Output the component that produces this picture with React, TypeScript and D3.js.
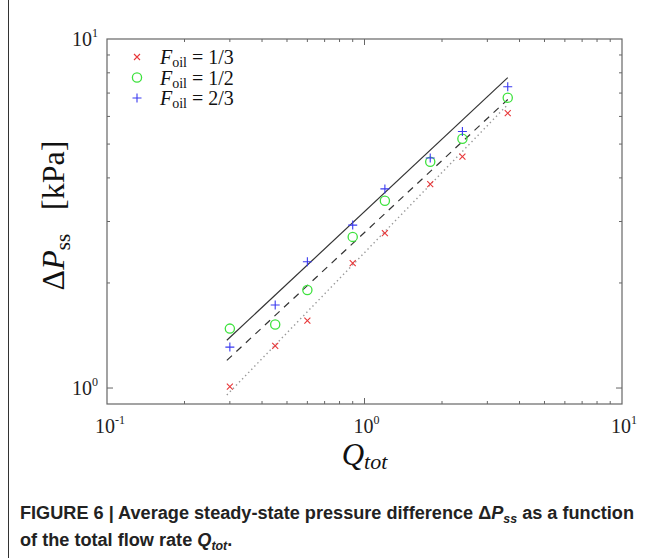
import * as d3 from 'd3';

// total flow rate and measured pressure difference (kPa)
const qTot = [0.3, 0.45, 0.6, 0.9, 1.2, 1.8, 2.4, 3.6];
const dpThird = [1.01, 1.32, 1.56, 2.28, 2.78, 3.84, 4.6, 6.13];
const dpHalf = [1.48, 1.52, 1.91, 2.71, 3.44, 4.45, 5.18, 6.79];
const dpTwoThirds = [1.31, 1.73, 2.3, 2.93, 3.72, 4.56, 5.43, 7.3];

// power-law fit lines (end points)
const fitQ = [0.292, 3.6];
const fitTwoThirds = [1.37, 7.75];
const fitHalf = [1.2, 6.71];
const fitThird = [0.955, 6.49];

const xTickExps = [-1, 0, 1];
const yTickExps = [0, 1];
const legendLabels = ['1/3', '1/2', '2/3'];

const W = 659;
const H = 558;
const frame = { left: 107, right: 622, top: 39, bottom: 404 };

const serif = '"Liberation Serif", "DejaVu Serif", serif';
const sans = '"Liberation Sans", Arial, sans-serif';

export default function App() {
  const x = d3.scaleLog().domain([0.1, 10]).range([frame.left, frame.right]);
  const y = d3.scaleLog().domain([0.9, 10]).range([frame.bottom, frame.top]);

  const line = d3.line<[number, number]>().x(d => x(d[0])).y(d => y(d[1]));
  const fit = (vals: number[]) => line(fitQ.map((q, i) => [q, vals[i]] as [number, number])) || '';

  const xMinor: number[] = [];
  [0.1, 1].forEach(b => d3.range(2, 10).forEach(k => xMinor.push(b * k)));
  const yMinor = d3.range(2, 10);

  const red = '#e8383a';
  const green = '#3ee23e';
  const blue = '#3a3af0';
  const axisCol = '#666';

  const cross = (cx: number, cy: number, k: string) => (
    <path key={k} d={`M${cx - 3},${cy - 3}L${cx + 3},${cy + 3}M${cx - 3},${cy + 3}L${cx + 3},${cy - 3}`}
      stroke={red} strokeWidth={1.1} fill="none" />
  );
  const circle = (cx: number, cy: number, k: string) => (
    <circle key={k} cx={cx} cy={cy} r={4.6} stroke={green} strokeWidth={1.3} fill="none" />
  );
  const plus = (cx: number, cy: number, k: string) => (
    <path key={k} d={`M${cx - 4.5},${cy}L${cx + 4.5},${cy}M${cx},${cy - 4.5}L${cx},${cy + 4.5}`}
      stroke={blue} strokeWidth={1.1} fill="none" />
  );

  const markers = [cross, circle, plus];

  return (
    <svg width={W} height={H} style={{ position: 'absolute', left: 0, top: 0, background: '#fff' }}>
      {/* outer border */}
      <line x1={8.5} x2={8.5} y1={0} y2={H} stroke="#333" strokeWidth={1} />

      {/* minor ticks */}
      {xMinor.map(v => (
        <g key={'xm' + v} stroke={axisCol} strokeWidth={1}>
          <line x1={x(v)} x2={x(v)} y1={frame.bottom} y2={frame.bottom - 3} />
          <line x1={x(v)} x2={x(v)} y1={frame.top} y2={frame.top + 3} />
        </g>
      ))}
      {yMinor.map(v => (
        <g key={'ym' + v} stroke={axisCol} strokeWidth={1}>
          <line x1={frame.left} x2={frame.left + 3} y1={y(v)} y2={y(v)} />
          <line x1={frame.right} x2={frame.right - 3} y1={y(v)} y2={y(v)} />
        </g>
      ))}
      {/* major ticks */}
      <g stroke={axisCol} strokeWidth={1}>
        <line x1={x(1)} x2={x(1)} y1={frame.bottom} y2={frame.bottom - 6} />
        <line x1={x(1)} x2={x(1)} y1={frame.top} y2={frame.top + 6} />
        <line x1={frame.left} x2={frame.left + 6} y1={y(1)} y2={y(1)} />
        <line x1={frame.right} x2={frame.right - 6} y1={y(1)} y2={y(1)} />
      </g>

      <rect x={frame.left} y={frame.top} width={frame.right - frame.left} height={frame.bottom - frame.top}
        fill="none" stroke={axisCol} strokeWidth={1.2} />

      {/* tick labels */}
      {xTickExps.map(e => (
        <text key={'xt' + e} x={x(Math.pow(10, e)) + (e < 0 ? 3 : 2)} y={frame.bottom + 29}
          fontFamily={serif} fontSize={20} textAnchor="middle" fill="#222">
          10<tspan fontSize={12} dy={-9}>{e}</tspan>
        </text>
      ))}
      {yTickExps.map(e => (
        <text key={'yt' + e} x={frame.left - 9} y={y(Math.pow(10, e)) + 7}
          fontFamily={serif} fontSize={20} textAnchor="end" fill="#222">
          10<tspan fontSize={12} dy={-9}>{e}</tspan>
        </text>
      ))}

      {/* axis titles */}
      <text x={(frame.left + frame.right) / 2} y={frame.bottom + 61} fontFamily={serif} fontSize={31}
        fontStyle="italic" textAnchor="middle" fill="#111">
        Q<tspan fontSize={22} dy={4}>tot</tspan>
      </text>
      <text transform={`translate(64,${(frame.top + frame.bottom) / 2 - 6}) rotate(-90)`} fontFamily={serif}
        fontSize={32} textAnchor="middle" fill="#111">
        Δ<tspan fontStyle="italic">P</tspan><tspan fontSize={21} dy={6}>ss</tspan>
        <tspan dy={-6}>{'\u00a0\u00a0\u00a0[kPa]'}</tspan>
      </text>

      {/* fit lines */}
      <path d={fit(fitTwoThirds)} stroke="#333" strokeWidth={1.2} fill="none" />
      <path d={fit(fitHalf)} stroke="#333" strokeWidth={1.2} strokeDasharray="7,6" fill="none" />
      <path d={fit(fitThird)} stroke="#999" strokeWidth={1.4} strokeDasharray="1.4,3" fill="none" />

      {/* data */}
      {[dpThird, dpHalf, dpTwoThirds].map((series, si) =>
        series.map((v, i) => markers[si](x(qTot[i]), y(v), `d${si}-${i}`))
      )}

      {/* legend */}
      {legendLabels.map((lab, i) => {
        const ly = 57 + i * 20.5;
        return (
          <g key={'lg' + i}>
            {markers[i](137, ly, 'lm' + i)}
            <text x={160} y={ly + 7} fontFamily={serif} fontSize={20} fill="#111">
              <tspan fontStyle="italic">F</tspan><tspan fontSize={14} dy={3}>oil</tspan>
              <tspan dy={-3}>{` = ${lab}`}</tspan>
            </text>
          </g>
        );
      })}

      {/* caption */}
      <g transform="translate(20,0) scale(0.955,1)" fontFamily={sans} fontWeight="bold" fontSize={19} fill="#222">
        <text x={0} y={519}>
          FIGURE 6 | Average steady-state pressure difference Δ<tspan fontStyle="italic">P</tspan>
          <tspan fontStyle="italic" fontSize={13} dy={4}>ss</tspan><tspan dy={-4}> as a function</tspan>
        </text>
        <text x={0} y={546}>
          of the total flow rate <tspan fontStyle="italic">Q</tspan>
          <tspan fontStyle="italic" fontSize={13} dy={4}>tot</tspan><tspan dy={-4}>.</tspan>
        </text>
      </g>
    </svg>
  );
}
